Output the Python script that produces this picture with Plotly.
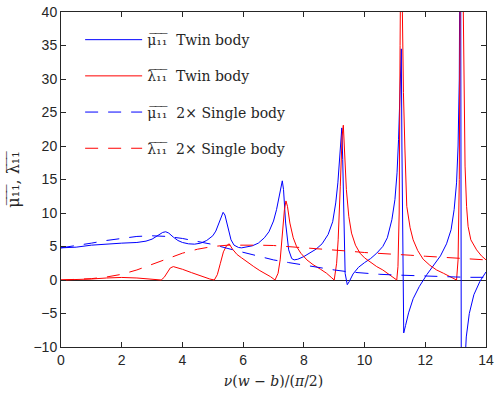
import plotly.graph_objects as go

# ---- data ----
mu_twin_x = [0, 0.5, 1.0, 1.5, 2.0, 2.5, 2.8, 3.0, 3.2, 3.35, 3.45, 3.55, 3.7, 3.85, 4.0, 4.2, 4.4, 4.6, 4.8,
             5.0, 5.1, 5.2, 5.28, 5.34, 5.4, 5.5, 5.6, 5.7, 5.85, 5.95, 6.1, 6.3, 6.5, 6.7, 6.85, 7.0, 7.1,
             7.18, 7.25, 7.29, 7.33, 7.4, 7.5, 7.6, 7.68, 7.8, 8.0, 8.2, 8.4, 8.6, 8.8, 8.95, 9.05, 9.12,
             9.18, 9.22, 9.25, 9.28, 9.32, 9.36, 9.43, 9.5, 9.62, 9.8, 10.0, 10.2, 10.4, 10.6, 10.75, 10.9,
             11.0, 11.07, 11.12, 11.16, 11.19, 11.21, 11.23, 11.26, 11.29, 11.35, 11.45, 11.6, 11.8, 12.05,
             12.3, 12.5, 12.7, 12.85, 12.95, 13.03, 13.08, 13.12, 13.16, 13.2, 13.25, 13.3, 13.35, 13.45,
             13.6, 13.8, 14.0]
mu_twin_y = [4.8, 4.9, 5.2, 5.4, 5.5, 5.6, 5.8, 6.1, 6.6, 7.1, 7.2, 7.0, 6.4, 5.9, 5.6, 5.4, 5.35, 5.5, 5.9,
             6.6, 7.3, 8.5, 9.6, 10.1, 9.7, 7.7, 6.0, 5.2, 4.85, 4.8, 4.9, 5.1, 5.5, 6.3, 7.2, 8.8, 10.5,
             12.5, 14.3, 14.8, 13.5, 8.5, 4.5, 3.2, 3.0, 3.1, 3.5, 4.0, 4.6, 5.4, 6.8, 8.7, 11.5, 14.5,
             18.0, 21.5, 22.7, 18.0, 8.0, 1.0, -0.7, -0.2, 0.9, 1.9, 2.6, 3.2, 4.0, 5.0, 6.3, 9.0,
             12.0, 16.0, 21.0, 27.5, 32.5, 34.5, 20.0, -2.0, -7.9, -6.8, -4.9, -2.8, -1.0, 0.8,
             2.3, 3.6, 5.4, 7.5, 10.5, 14.5, 20.0, 30.0, 70.0, -60.0, -25.0, -13.0, -8.5, -5.0,
             -2.2, -0.2, 1.2]

lam_twin_x = [0, 0.5, 1.0, 1.5, 2.0, 2.5, 2.9, 3.2, 3.3, 3.4, 3.5, 3.6, 3.7, 3.85, 4.0, 4.3, 4.6, 4.9, 5.05,
              5.15, 5.25, 5.35, 5.45, 5.54, 5.65, 5.8, 5.95, 6.15, 6.35, 6.55, 6.75, 6.9, 7.05, 7.15, 7.22,
              7.3, 7.36, 7.41, 7.46, 7.54, 7.65, 7.76, 7.9, 8.1, 8.3, 8.55, 8.75, 8.9, 9.0, 9.08, 9.13, 9.2,
              9.26, 9.3, 9.34, 9.4, 9.48, 9.57, 9.7, 9.85, 10.0, 10.2, 10.4, 10.6, 10.8, 10.95, 11.06, 11.1,
              11.14, 11.17, 11.2, 11.24, 11.28, 11.33, 11.39, 11.5, 11.6, 11.75, 11.93, 12.15, 12.37, 12.6,
              12.81, 13.03, 13.08, 13.12, 13.15, 13.2, 13.24, 13.28, 13.31, 13.36, 13.41, 13.5, 13.69,
              13.85, 14.0]
lam_twin_y = [0, 0.05, 0.15, 0.3, 0.38, 0.3, 0.15, 0.03, 0.0, 0.4, 1.2, 1.8, 2.0, 1.85, 1.6, 1.1, 0.6, 0.15, 0.0,
              0.8, 2.5, 4.2, 5.1, 5.4, 4.6, 3.8, 3.3, 2.6, 2.0, 1.4, 0.9, 0.5, 0.0, 1.0, 3.0,
              7.5, 10.5, 11.8, 11.0, 8.5, 6.3, 5.0, 4.0, 3.0, 2.3, 1.6, 1.0, 0.4, 0.0, 2.5, 6.0, 14.0,
              21.5, 23.1, 19.0, 13.5, 9.5, 7.0, 5.2, 4.0, 3.3, 2.6, 2.0, 1.5, 0.9, 0.4, 0.0, 2.0,
              10.0, 35.0, 55.0, 42.0, 28.0, 19.4, 11.0, 7.8, 6.0, 4.4, 3.1, 2.2, 1.5, 1.0,
              0.5, 0.0, 3.0, 15.0, 45.0, 60.0, 45.0, 25.0, 17.0, 11.0, 8.0, 6.0, 4.5,
              3.6, 3.0]

single_x = [0, 0.5, 1.0, 1.5, 2.0, 2.5, 3.0, 3.5, 4.0, 4.5, 5.0, 5.5, 6.0, 6.5, 7.0, 7.5, 8.0, 8.5, 9.0,
            9.5, 10.0, 10.5, 11.0, 11.5, 12.0, 12.5, 13.0, 13.5, 14.0]
mu_single_y = [4.8, 5.1, 5.5, 5.9, 6.25, 6.5, 6.6, 6.5, 6.2, 5.8, 5.3, 4.7, 4.1, 3.5, 3.0, 2.6, 2.2, 1.8, 1.5,
               1.2, 1.0, 0.85, 0.75, 0.65, 0.55, 0.5, 0.45, 0.4, 0.4]
lam_single_y = [0, 0.05, 0.2, 0.45, 0.85, 1.5, 2.3, 3.2, 4.0, 4.6, 5.0, 5.2, 5.25, 5.2, 5.15, 5.0, 4.85, 4.6, 4.45,
                4.3, 4.1, 4.0, 3.85, 3.7, 3.55, 3.4, 3.25, 3.1, 3.0]

names = ["μ̅₁̅₁̅  Twin body", "λ̅₁̅₁̅  Twin body", "μ̅₁̅₁̅  2× Single body", "λ̅₁̅₁̅  2× Single body"]

x_ticks = [0, 2, 4, 6, 8, 10, 12, 14]
y_ticks = [-10, -5, 0, 5, 10, 15, 20, 25, 30, 35, 40]

BLUE = "#0000FF"
RED = "#FF0000"
AX = "#262626"

fig = go.Figure()
fig.add_trace(go.Scatter(x=mu_twin_x, y=mu_twin_y, mode="lines", name=names[0],
                         line=dict(color=BLUE, width=1), legendgroup="a"))
fig.add_trace(go.Scatter(x=lam_twin_x, y=lam_twin_y, mode="lines", name=names[1],
                         line=dict(color=RED, width=1), legendgroup="b"))
fig.add_trace(go.Scatter(x=single_x, y=mu_single_y, mode="lines", name=names[2],
                         line=dict(color=BLUE, width=1, dash="13px,10px"), legendgroup="c"))
fig.add_trace(go.Scatter(x=single_x, y=lam_single_y, mode="lines", name=names[3],
                         line=dict(color=RED, width=1, dash="13px,10px"), legendgroup="d"))

axis_common = dict(showline=True, linecolor=AX, linewidth=1, mirror="ticks", ticks="inside",
                   ticklen=5, tickcolor=AX, showgrid=False, automargin=False,
                   tickfont=dict(family="Liberation Sans, Arial", size=14, color=AX))

fig.update_xaxes(range=[0, 14], tickvals=x_ticks, zeroline=False,
                 title=dict(text="<i>ν</i>(<i>w</i> − <i>b</i>)/(<i>π</i>/2)",
                            font=dict(family="DejaVu Serif", size=14, color=AX), standoff=9),
                 **axis_common)
fig.update_yaxes(range=[-10, 40], tickvals=y_ticks, zeroline=True, zerolinecolor=AX, zerolinewidth=1,
                 title=dict(text="μ̅₁̅₁̅, λ̅₁̅₁̅",
                            font=dict(family="DejaVu Serif", size=16, color=AX), standoff=9),
                 **axis_common)

fig.update_layout(
    width=496, height=394,
    margin=dict(l=61, r=10, t=12, b=47, autoexpand=False),
    paper_bgcolor="white", plot_bgcolor="white",
    showlegend=True,
    legend=dict(x=0.045, y=0.964, xanchor="left", yanchor="top", bgcolor="rgba(0,0,0,0)",
                font=dict(family="DejaVu Serif", size=14, color=AX),
                tracegroupgap=15, itemwidth=57),
)

fig.write_html("out.html")
